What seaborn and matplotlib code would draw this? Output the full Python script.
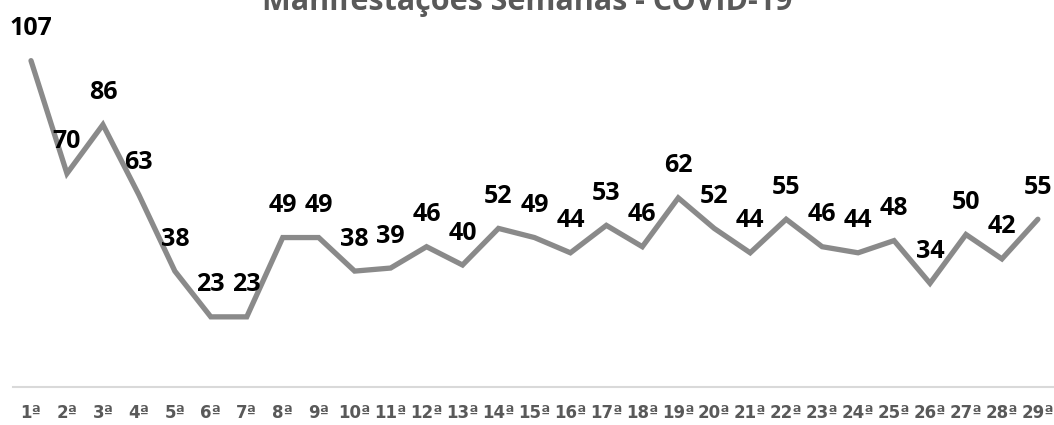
import numpy as np
import matplotlib
matplotlib.use("Agg")
import matplotlib.pyplot as plt
import seaborn as sns

# data
semanas = [f"{i}ª" for i in range(1, 30)]
manifestacoes = [107, 70, 86, 63, 38, 23, 23, 49, 49, 38, 39, 46, 40, 52, 49,
                 44, 53, 46, 62, 52, 44, 55, 46, 44, 48, 34, 50, 42, 55]

sns.set_theme(style="white")
plt.rcParams['font.family'] = ['Open Sans', 'DejaVu Sans']

fig = plt.figure(figsize=(10.54, 4.25), dpi=100)
ax = fig.add_axes([0.0, 38 / 425, 1.0, 366 / 425])

x = np.arange(len(semanas))
sns.lineplot(x=x, y=manifestacoes, ax=ax, color='#8a8a8a', linewidth=3.8,
             solid_joinstyle='miter')

# data labels above each point
for xi, v in zip(x, manifestacoes):
    ax.annotate(str(v), (xi, v), xytext=(0, 23), textcoords='offset points',
                ha='center', va='center', fontsize=18, fontweight='bold',
                color='black')

step = 1054 / 35.96
ax.set_xlim(-31 / 35.96, -31 / 35.96 + step)
ax.set_ylim(0, 120)
ax.set_xticks(x)
ax.set_xticklabels(semanas, fontsize=12, fontweight='bold', color='#595959',
                   family='DejaVu Sans')
ax.tick_params(axis='x', length=0, pad=12)
ax.set_yticks([])

for s in ['top', 'left', 'right']:
    ax.spines[s].set_visible(False)
ax.spines['bottom'].set_color('#d9d9d9')
ax.spines['bottom'].set_linewidth(1.5)
ax.spines['bottom'].set_bounds(-0.5, 28.5)
ax.patch.set_alpha(0)

# title is partly cut at the top edge, as in the original
fig.text(0.5, 1 - 10 / 425, 'Manifestações Semanas - COVID-19', ha='center',
         va='baseline', fontsize=22, fontweight='bold', color='#595959')

fig.savefig('out.png', dpi=100)
